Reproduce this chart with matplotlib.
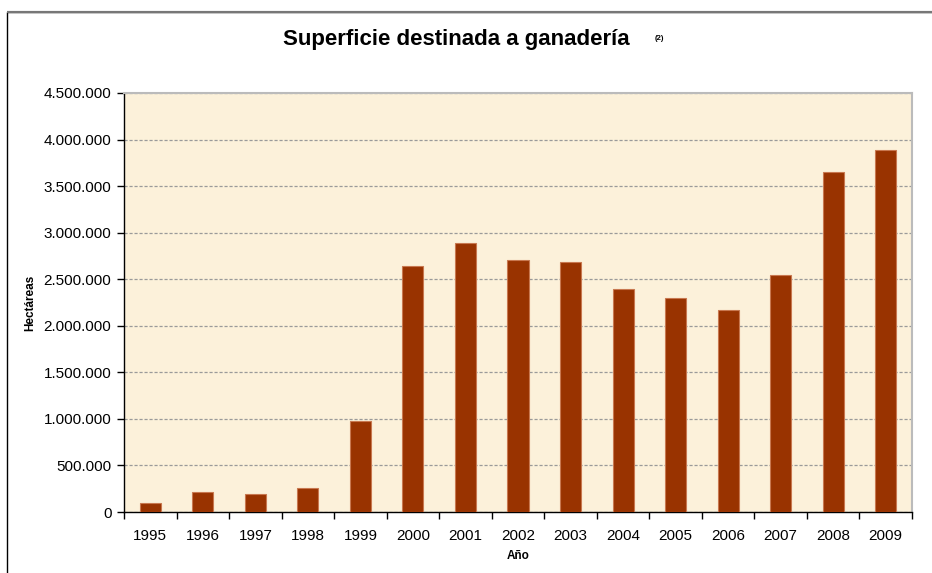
import matplotlib
matplotlib.use("Agg")
import matplotlib.pyplot as plt
from matplotlib.patches import Rectangle
from matplotlib.ticker import FuncFormatter, FixedLocator
import numpy as np

years = ["1995", "1996", "1997", "1998", "1999", "2000", "2001", "2002",
         "2003", "2004", "2005", "2006", "2007", "2008", "2009"]
hectareas = [97000, 215000, 197000, 258000, 974000, 2645000, 2890000, 2706000,
             2685000, 2395000, 2294000, 2168000, 2545000, 3652000, 3889000]

title = "Superficie destinada a ganadería"
title_note = "(2)"
xlabel = "Año"
ylabel = "Hectáreas"

plt.rcParams['font.family'] = ['Liberation Sans', 'DejaVu Sans']

W, H = 932, 573
fig = plt.figure(figsize=(W / 100, H / 100), dpi=100)
fig.patch.set_facecolor("white")

# outer frame (partially cropped)
fig.patches.append(Rectangle((7 / W, -0.05), 1.2, (H - 12) / H + 0.05,
                             transform=fig.transFigure, fill=False,
                             edgecolor="black", linewidth=1.0))
fig.patches.append(Rectangle((7 / W, (H - 12) / H), 1.2, 0,
                             transform=fig.transFigure, fill=False,
                             edgecolor="#777777", linewidth=1.5))

ax = fig.add_axes([124 / W, 1 - 512 / H, (912 - 124) / W, (512 - 93) / H])
ax.set_facecolor("#FCF1DA")

x = np.arange(len(years))
ax.bar(x, hectareas, width=0.4, color="#993300", edgecolor="#C87850",
       linewidth=0.8, zorder=3)

ax.set_xlim(-0.5, len(years) - 0.5)
ax.set_ylim(0, 4500000)
ax.yaxis.set_major_locator(FixedLocator(np.arange(0, 4500001, 500000)))
ax.yaxis.set_major_formatter(FuncFormatter(lambda v, p: f"{int(v):,}".replace(",", ".")))

ax.set_xticks(x)
ax.set_xticklabels(years)
ax.set_xticks(np.arange(-0.5, len(years), 1), minor=True)
ax.tick_params(axis="x", which="major", length=0, pad=12, labelsize=11)
ax.tick_params(axis="x", which="minor", length=5, width=1, direction="out", color="black")
ax.tick_params(axis="y", which="major", length=5, width=1, direction="out",
               labelsize=11, pad=4)

ax.grid(axis="y", color="#9A9A9A", linestyle=(0, (2.5, 1.5)), linewidth=0.9, zorder=1)
ax.set_axisbelow(True)

for s in ["left", "bottom"]:
    ax.spines[s].set_color("black")
    ax.spines[s].set_linewidth(1.0)
for s in ["right", "top"]:
    ax.spines[s].set_color("#BBBBBB")
    ax.spines[s].set_linewidth(1.5)

ax.set_xlabel(xlabel, fontsize=8.5, fontweight="bold")
ax.xaxis.set_label_coords(0.5, -38 / (512 - 93))
ax.set_ylabel(ylabel, fontsize=8.5, fontweight="bold")
ax.yaxis.set_label_coords(-88 / (912 - 124), 0.5)

fig.text(456 / W, 1 - 40 / H, title, fontsize=16, fontweight="bold",
         ha="center", va="center")
fig.text(655 / W, 1 - 38 / H, title_note, fontsize=5.5, fontweight="bold",
         ha="left", va="center")

fig.savefig("out.png", dpi=100)
